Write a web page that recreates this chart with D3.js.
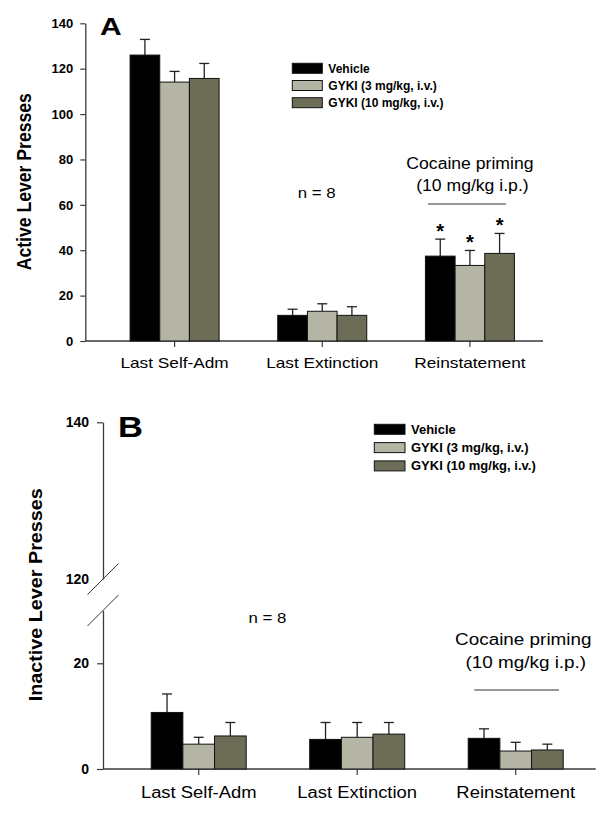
<!DOCTYPE html>
<html>
<head>
<meta charset="utf-8">
<script src="https://cdn.jsdelivr.net/npm/d3@7"></script>
<style>
  body { margin: 0; background: #fff; }
  text { font-family: "Liberation Sans", Arial, sans-serif; fill: #000; }
</style>
</head>
<body>
<svg id="chart"></svg>
<script>
// Data
const categories = ["Last Self-Adm", "Last Extinction", "Reinstatement"];
const series = ["Vehicle", "GYKI (3 mg/kg, i.v.)", "GYKI (10 mg/kg, i.v.)"];

// Panel A - active lever (mean, SEM)
const activeVehicle    = [126.0, 11.3, 37.4];
const activeVehicleSem = [6.9, 2.7, 7.5];
const activeGyki3      = [114.1, 13.1, 33.3];
const activeGyki3Sem   = [4.7, 3.3, 6.6];
const activeGyki10     = [115.7, 11.3, 38.6];
const activeGyki10Sem  = [6.6, 3.8, 8.8];
const activeSignif     = [false, false, true];
const activeTicks      = [0, 20, 40, 60, 80, 100, 120, 140];

// Panel B - inactive lever (mean, SEM)
const inactiveVehicle    = [10.7, 5.6, 5.8];
const inactiveVehicleSem = [3.5, 3.2, 1.8];
const inactiveGyki3      = [4.7, 6.0, 3.4];
const inactiveGyki3Sem   = [1.3, 2.8, 1.65];
const inactiveGyki10     = [6.25, 6.6, 3.6];
const inactiveGyki10Sem  = [2.55, 2.2, 1.1];
const inactiveSignif     = [false, false, false];
const inactiveTicksLow   = [0, 20];
const inactiveTicksHigh  = [120, 140];

const fills = ["#000000", "#b5b5a5", "#6d6d57"];
const axisColor = "#3a3a3a";

const svg = d3.select("#chart").attr("width", 612).attr("height", 814);

// stretch text horizontally (the original figure is a bit wider than tall)
function stretch(sel, k) {
    sel.each(function () {
        const len = this.getComputedTextLength();
        d3.select(this).attr("textLength", len * k).attr("lengthAdjust", "spacingAndGlyphs");
    });
}

function drawPanel(p) {
    const g = svg.append("g");

    const x = d3.scaleBand().domain(categories).range(p.xRange);
    const xs = d3.scaleBand().domain(series).range([-p.groupW / 2, p.groupW / 2]);
    const yBar = d3.scaleLinear().domain(p.yAxes[0].domain).range(p.yAxes[0].range);
    const y0 = yBar(0);

    // y axes (one or two segments)
    p.yAxes.forEach(a => {
        const sc = d3.scaleLinear().domain(a.domain).range(a.range);
        const ax = g.append("g")
            .attr("transform", `translate(${p.axisX},0)`)
            .call(d3.axisLeft(sc).tickValues(a.ticks).tickSize(p.tickSize)
                .tickSizeOuter(0).tickPadding(p.tickPad).tickFormat(d3.format("d")));
        ax.select(".domain").attr("stroke", axisColor).attr("stroke-width", 1.3);
        ax.selectAll(".tick line").attr("stroke", axisColor).attr("stroke-width", 1.2);
        ax.selectAll(".tick text")
            .attr("font-size", p.tickFont).attr("font-weight", "bold")
            .attr("font-family", "Liberation Sans, Arial, sans-serif").attr("fill", "#000");
        ax.selectAll(".tick").filter(d => (a.noTickLine || []).includes(d))
            .select("line").remove();
    });

    // axis break marks
    (p.breaks || []).forEach(b => {
        g.append("line")
            .attr("x1", p.axisX - 15.5).attr("y1", b + 15.5)
            .attr("x2", p.axisX + 15.5).attr("y2", b - 15.5)
            .attr("stroke", axisColor).attr("stroke-width", 1);
    });

    // x axis
    g.append("line")
        .attr("x1", p.axisX).attr("x2", p.xAxisEnd)
        .attr("y1", y0).attr("y2", y0)
        .attr("stroke", axisColor).attr("stroke-width", 1.3);
    g.selectAll(".xtick").data(categories).enter().append("line")
        .attr("x1", d => x(d) + x.bandwidth() / 2).attr("x2", d => x(d) + x.bandwidth() / 2)
        .attr("y1", y0).attr("y2", y0 + 6)
        .attr("stroke", axisColor).attr("stroke-width", 1.2);
    g.selectAll(".xlab").data(categories).enter().append("text")
        .attr("x", d => x(d) + x.bandwidth() / 2)
        .attr("y", p.xLabelY)
        .attr("text-anchor", "middle")
        .attr("font-size", p.xLabelFont)
        .text(d => d)
        .call(stretch, 1.15);

    // bars + error bars
    const rows = [];
    categories.forEach((c, i) => {
        series.forEach((s, j) => {
            rows.push({ cat: c, ser: s, j, value: p.values[j][i], sem: p.sems[j][i], sig: p.signif[i] });
        });
    });

    const cx = d => x(d.cat) + x.bandwidth() / 2 + xs(d.ser) + xs.bandwidth() / 2;

    g.selectAll(".err").data(rows).enter().append("line")
        .attr("x1", cx).attr("x2", cx)
        .attr("y1", d => yBar(d.value)).attr("y2", d => yBar(d.value + d.sem))
        .attr("stroke", "#222").attr("stroke-width", 1.3);
    g.selectAll(".cap").data(rows).enter().append("line")
        .attr("x1", d => cx(d) - 5).attr("x2", d => cx(d) + 5)
        .attr("y1", d => yBar(d.value + d.sem)).attr("y2", d => yBar(d.value + d.sem))
        .attr("stroke", "#222").attr("stroke-width", 1.3);

    g.selectAll(".bar").data(rows).enter().append("rect")
        .attr("x", d => x(d.cat) + x.bandwidth() / 2 + xs(d.ser))
        .attr("width", xs.bandwidth())
        .attr("y", d => yBar(d.value))
        .attr("height", d => y0 - yBar(d.value))
        .attr("fill", d => fills[d.j])
        .attr("stroke", "#111").attr("stroke-width", 1);

    g.selectAll(".star").data(rows.filter(d => d.sig)).enter().append("text")
        .attr("x", cx)
        .attr("y", d => yBar(d.value + d.sem) - 1)
        .attr("text-anchor", "middle")
        .attr("font-size", 20).attr("font-weight", "bold")
        .text("*");

    // legend
    const lg = g.append("g").attr("transform", `translate(${p.legend.x},${p.legend.y})`);
    series.forEach((s, j) => {
        lg.append("rect")
            .attr("x", 0).attr("y", j * p.legend.step - 5)
            .attr("width", p.legend.w).attr("height", 10)
            .attr("fill", fills[j]).attr("stroke", "#111").attr("stroke-width", 1);
        lg.append("text")
            .attr("x", p.legend.w + 6).attr("y", j * p.legend.step + 4.5)
            .attr("font-size", p.legend.font).attr("font-weight", "bold")
            .text(s);
    });

    // panel letter
    g.append("text")
        .attr("x", p.letter.x).attr("y", p.letter.y)
        .attr("font-size", p.letter.font).attr("font-weight", "bold")
        .text(p.letter.text)
        .call(stretch, p.letter.k);

    // y title
    g.append("text")
        .attr("transform", `translate(${p.yTitle.x},${p.yTitle.y}) rotate(-90)`)
        .attr("text-anchor", "middle")
        .attr("font-size", p.yTitle.font).attr("font-weight", "bold")
        .text(p.yTitle.text)
        .call(stretch, p.yTitle.k);

    // n = 8
    g.append("text")
        .attr("x", p.nLabel.x).attr("y", p.nLabel.y)
        .attr("text-anchor", "middle").attr("font-size", 14)
        .text("n = 8")
        .call(stretch, 1.2);

    // cocaine priming annotation over the reinstatement group
    const rc = x("Reinstatement") + x.bandwidth() / 2;
    const cp = p.priming;
    g.append("line")
        .attr("x1", rc + cp.x1).attr("x2", rc + cp.x2)
        .attr("y1", cp.lineY).attr("y2", cp.lineY)
        .attr("stroke", "#333").attr("stroke-width", 1.2);
    g.append("text")
        .attr("x", rc + cp.dx).attr("y", cp.lineY - cp.gap2)
        .attr("text-anchor", "middle").attr("font-size", 16)
        .text("Cocaine priming")
        .call(stretch, cp.k);
    g.append("text")
        .attr("x", rc + cp.dx + 2.5).attr("y", cp.lineY - cp.gap1)
        .attr("text-anchor", "middle").attr("font-size", 16)
        .text("(10 mg/kg i.p.)")
        .call(stretch, cp.k);
}

drawPanel({
    values: [activeVehicle, activeGyki3, activeGyki10],
    sems: [activeVehicleSem, activeGyki3Sem, activeGyki10Sem],
    signif: activeSignif,
    yAxes: [{ domain: [0, 140], range: [341, 23.3], ticks: activeTicks }],
    axisX: 85.3, xAxisEnd: 543, xRange: [100.75, 543.75], groupW: 89,
    tickSize: 5, tickPad: 7, tickFont: 13,
    xLabelY: 368, xLabelFont: 15,
    legend: { x: 292.3, y: 68.3, step: 17.2, w: 30, font: 12 },
    letter: { x: 100, y: 34.5, font: 24, text: "A", k: 1.25 },
    yTitle: { x: 30.7, y: 181.7, font: 20, text: "Active Lever Presses", k: 0.88 },
    nLabel: { x: 316.7, y: 198.3 },
    priming: { x1: -42, x2: 36, lineY: 204, gap1: 13.3, gap2: 34.7, dx: 0, k: 1.1 }
});

drawPanel({
    values: [inactiveVehicle, inactiveGyki3, inactiveGyki10],
    sems: [inactiveVehicleSem, inactiveGyki3Sem, inactiveGyki10Sem],
    signif: inactiveSignif,
    yAxes: [
        { domain: [0, 30], range: [769, 610.45], ticks: inactiveTicksLow },
        { domain: [120, 140], range: [579, 422.3], ticks: inactiveTicksHigh, noTickLine: [120] }
    ],
    breaks: [579, 610.45],
    axisX: 103, xAxisEnd: 595.7, xRange: [119.45, 594.95], groupW: 95,
    tickSize: 6, tickPad: 8, tickFont: 14,
    xLabelY: 798.3, xLabelFont: 16,
    legend: { x: 374.3, y: 429.3, step: 18.3, w: 30.7, font: 13 },
    letter: { x: 118, y: 436.7, font: 30, text: "B", k: 1.15 },
    yTitle: { x: 41.7, y: 594.8, font: 19, text: "Inactive Lever Presses", k: 1.04 },
    nLabel: { x: 267.5, y: 623.3 },
    priming: { x1: -41.4, x2: 43.3, lineY: 690, gap1: 21.7, gap2: 45, dx: 7.6, k: 1.18 }
});
</script>
</body>
</html>
